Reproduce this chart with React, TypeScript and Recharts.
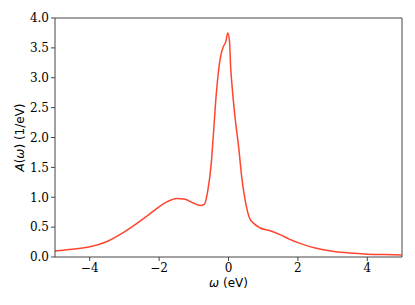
import React from "react";
import {
  LineChart,
  Line,
  XAxis,
  YAxis,
  ReferenceLine,
  Label,
} from "recharts";

// spectral function A(omega)
const omega = [
  -5.0, -4.5, -4.0, -3.5, -3.0, -2.5, -2.25, -2.0, -1.75, -1.5, -1.25, -1.0, -0.8, -0.7,
  -0.6, -0.5, -0.42, -0.37, -0.3, -0.22, -0.15, -0.08, -0.02, 0.03, 0.06, 0.1,
  0.19, 0.3, 0.38, 0.48, 0.6, 0.75, 0.9, 1.2, 1.5, 1.75, 2.0, 2.25, 2.5, 3.0, 3.5, 4.0, 4.5, 5.0,
];
const spectral = [
  0.1, 0.13, 0.17, 0.26, 0.42, 0.62, 0.73, 0.84, 0.93, 0.98, 0.965, 0.9, 0.86, 0.88,
  1.1, 1.55, 2.18, 2.6, 3.05, 3.38, 3.52, 3.6, 3.75, 3.6, 3.2, 2.88,
  2.33, 1.8, 1.34, 0.95, 0.66, 0.55, 0.49, 0.44, 0.37, 0.3, 0.24, 0.19, 0.15, 0.095, 0.065, 0.048, 0.04, 0.035,
];
const xTicks = [-4, -2, 0, 2, 4];
const yTicks = [0, 0.5, 1, 1.5, 2, 2.5, 3, 3.5, 4];

const data = omega.map((w, i) => ({ w, a: spectral[i] }));

const tickFont = { fontFamily: "DejaVu Serif", fontSize: 12, fill: "#000" };
const axisColor = "#444";

export default function App() {
  return (
    <div style={{ position: "absolute", left: 0, top: 0, background: "#fff" }}>
      <LineChart
        width={415}
        height={305}
        data={data}
        margin={{ top: 18, right: 13, left: 0, bottom: 0 }}
      >
        <XAxis
          type="number"
          dataKey="w"
          domain={[-5, 5]}
          ticks={xTicks}
          tickFormatter={(v: number) => (v < 0 ? "\u2212" + Math.abs(v) : String(v))}
          tick={tickFont}
          tickSize={4}
          stroke={axisColor}
          height={48}
          allowDataOverflow
        >
          <Label
            content={({ viewBox }: any) => (
              <text
                x={viewBox.x + viewBox.width / 2}
                y={287}
                textAnchor="middle"
                fontFamily="DejaVu Sans"
                fontSize={12}
              >
                <tspan fontStyle="italic">ω</tspan> (eV)
              </text>
            )}
          />
        </XAxis>
        <YAxis
          type="number"
          domain={[0, 4]}
          ticks={yTicks}
          tickFormatter={(v: number) => v.toFixed(1)}
          tick={tickFont}
          tickSize={4}
          stroke={axisColor}
          width={55}
          allowDataOverflow
        >
          <Label
            content={({ viewBox }: any) => {
              const cy = viewBox.y + viewBox.height / 2;
              return (
                <text
                  x={24}
                  y={cy}
                  transform={`rotate(-90, 24, ${cy})`}
                  textAnchor="middle"
                  fontFamily="DejaVu Sans"
                  fontSize={12}
                >
                  <tspan fontStyle="italic">A</tspan>(<tspan fontStyle="italic">ω</tspan>) (1/eV)
                </text>
              );
            }}
          />
        </YAxis>
        <ReferenceLine y={4} stroke={axisColor} />
        <ReferenceLine x={5} stroke={axisColor} />
        <Line
          type="monotone"
          dataKey="a"
          stroke="#ff4530"
          strokeWidth={1.5}
          dot={false}
          isAnimationActive={false}
        />
      </LineChart>
    </div>
  );
}
